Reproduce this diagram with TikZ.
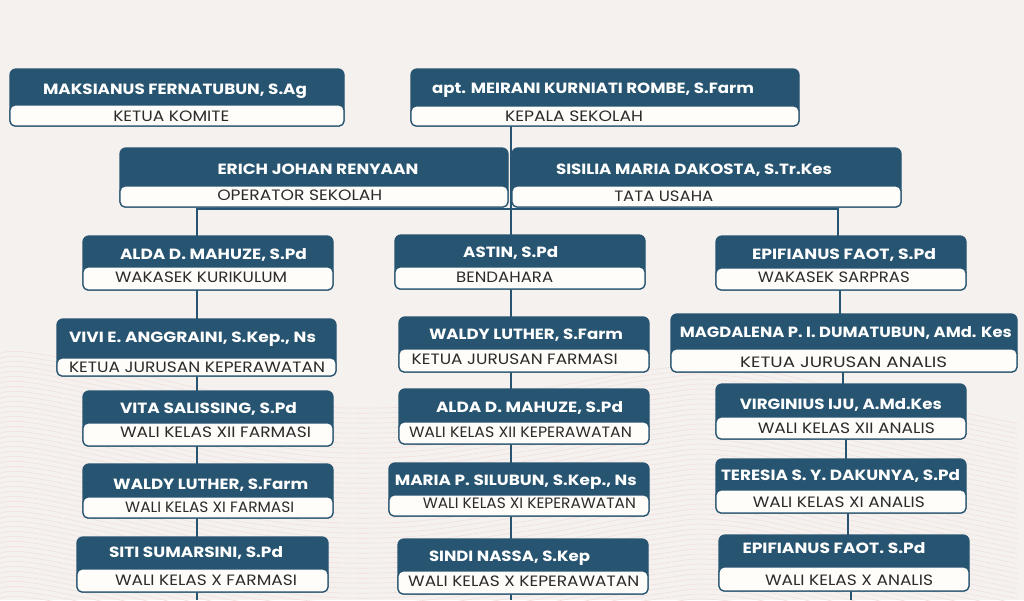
\documentclass[tikz,border=0pt]{standalone}
\usepackage{fontspec}
\usepackage{graphicx}
\newfontfamily\popp{Poppins}
\usetikzlibrary{calc}
\definecolor{bgc}{RGB}{244,241,239}
\definecolor{cblue}{RGB}{39,84,112}
\definecolor{cwhite}{RGB}{254,253,250}
\definecolor{rtext}{RGB}{45,42,42}
\definecolor{wavec}{RGB}{241,224,222}
\pgfdeclarelayer{waves}
\pgfdeclarelayer{links}
\pgfsetlayers{waves,links,main}

\newcommand\fitw[2]{\sbox0{#2}\pgfmathsetmacro\fitr{#1/\the\wd0}\scalebox{\fitr}[1]{\usebox0}}

\tikzset{
 cardbox/.style={draw=cblue, fill=cblue, line width=1.3pt, rounded corners=6pt, inner sep=0pt, outer sep=0pt, anchor=north west},
 rolebox/.style={draw=cblue, fill=cwhite, line width=1.3pt, rounded corners=5pt},
 nametext/.style={anchor=base, inner sep=0pt, text=white, font=\popp\bfseries\fontsize{14.8}{16}\selectfont},
 roletext/.style={anchor=base, inner sep=0pt, text=rtext, font=\popp\fontsize{15}{17}\selectfont},
 link/.style={draw=cblue, line width=1.5pt},
 wavy/.style={draw=wavec, line width=0.6pt},
}

\newcommand\card[6]{%
 \node[cardbox, minimum width={(#4-#2)*1pt}, minimum height={(#5-#3)*1pt}] (#1) at (#2,#3) {};
 \draw[rolebox] (#2,#6) rectangle (#4,#5);}
\newcommand\nm[5]{\node[nametext] (#1) at (#2,#3+5) {\fitw{#4}{#5}};}
\newcommand\rl[5]{\node[roletext] (#1) at (#2,#3+5) {\fitw{#4}{#5}};}

\begin{document}
\begin{tikzpicture}[x=1pt,y=-1pt]
\useasboundingbox (0,0) rectangle (1024,600);
\begin{pgfonlayer}{waves}
\fill[bgc] (0,0) rectangle (1024,600);
\begin{scope}
\clip (0,0) rectangle (1017,600);
\foreach \k in {0,...,50}{
 \draw[wavy] plot[smooth, tension=0.7] coordinates {(-5,356+5*\k) (25,352+5*\k) (120,370+5*\k) (250,398+5*\k) (380,408+5*\k) (520,392+5*\k) (650,370+5*\k) (730,366+5*\k) (860,392+5*\k) (1020,424+5*\k)};
}
\end{scope}
\end{pgfonlayer}

% top cards
\card{k1}{10}{69}{344}{126}{105}
\card{k2}{411}{69}{799}{126}{106}
\card{k3}{120}{148}{508}{207}{186}
\card{k4}{512}{148}{901}{207}{186}
% left column
\card{L1}{83}{236}{333}{290}{267}
\card{L2}{57}{319}{336}{376}{358}
\card{L3}{83}{391}{333}{446}{423}
\card{L4}{83}{464}{333}{518}{497}
\card{L5}{77}{537}{328}{592}{569}
% center column
\card{C1}{395}{235}{645}{289}{267}
\card{C2}{399}{317}{649}{372}{349}
\card{C3}{399}{389}{649}{444}{422}
\card{C4}{389}{463}{649}{516}{495}
\card{C5}{398}{539}{648}{594}{571}
% right column
\card{R1}{716}{236}{966}{290}{268}
\card{R2}{671}{314}{1017}{372}{349}
\card{R3}{716}{384}{966}{439}{417}
\card{R4}{716}{459}{966}{513}{490}
\card{R5}{719}{535}{969}{591}{567}

% names
\nm{k1n}{175}{89}{264}{MAKSIANUS FERNATUBUN, S.Ag}
\nm{k2n}{593}{88}{322}{apt. MEIRANI KURNIATI ROMBE, S.Farm}
\nm{k3n}{318}{169}{201}{ERICH JOHAN RENYAAN}
\nm{k4n}{694}{169}{276}{SISILIA MARIA DAKOSTA, S.Tr.Kes}
\nm{L1n}{213.5}{254}{187}{ALDA D. MAHUZE, S.Pd}
\nm{L2n}{192.5}{337}{247}{VIVI E. ANGGRAINI, S.Kep., Ns}
\nm{L3n}{208.5}{408}{177}{VITA SALISSING, S.Pd}
\nm{L4n}{210.7}{484.3}{195}{WALDY LUTHER, S.Farm}
\nm{L5n}{196}{552.3}{174}{SITI SUMARSINI, S.Pd}
\nm{C1n}{510.7}{252.3}{95}{ASTIN, S.Pd}
\nm{C2n}{526}{334.3}{194}{WALDY LUTHER, S.Farm}
\nm{C3n}{529.5}{407.3}{187}{ALDA D. MAHUZE, S.Pd}
\nm{C4n}{515.8}{480.7}{242}{MARIA P. SILUBUN, S.Kep., Ns}
\nm{C5n}{509.5}{556}{161}{SINDI NASSA, S.Kep}
\nm{R1n}{844}{254}{184}{EPIFIANUS FAOT, S.Pd}
\nm{R2n}{845.8}{332}{332}{MAGDALENA P. I. DUMATUBUN, AMd. Kes}
\nm{R3n}{840.8}{404}{202}{VIRGINIUS IJU, A.Md.Kes}
\nm{R4n}{840.5}{475}{239}{TERESIA S. Y. DAKUNYA, S.Pd}
\nm{R5n}{834}{548.3}{183}{EPIFIANUS FAOT. S.Pd}

% roles
\rl{k1r}{171.3}{116}{116}{KETUA KOMITE}
\rl{k2r}{574}{116}{138}{KEPALA SEKOLAH}
\rl{k3r}{299.8}{195}{165}{OPERATOR SEKOLAH}
\rl{k4r}{663.8}{196.7}{99}{TATA USAHA}
\rl{L1r}{201}{277}{172}{WAKASEK KURIKULUM}
\rl{L2r}{197}{367.7}{256}{KETUA JURUSAN KEPERAWATAN}
\rl{L3r}{215.5}{432.7}{191}{WALI KELAS XII FARMASI}
\rl{L4r}{209.7}{507.7}{169}{WALI KELAS XI FARMASI}
\rl{L5r}{206}{580}{182}{WALI KELAS X FARMASI}
\rl{C1r}{504.7}{277.3}{97}{BENDAHARA}
\rl{C2r}{514.7}{359}{206}{KETUA JURUSAN FARMASI}
\rl{C3r}{520.5}{432.7}{223}{WALI KELAS XII KEPERAWATAN}
\rl{C4r}{529.3}{503.3}{213}{WALI KELAS XI KEPERAWATAN}
\rl{C5r}{523.7}{581.7}{231}{WALI KELAS X KEPERAWATAN}
\rl{R1r}{833.8}{277.7}{152}{WAKASEK SARPRAS}
\rl{R2r}{843.7}{362.7}{207}{KETUA JURUSAN ANALIS}
\rl{R3r}{846.3}{428.3}{177}{WALI KELAS XII ANALIS}
\rl{R4r}{838.8}{502}{172}{WALI KELAS XI ANALIS}
\rl{R5r}{849}{580}{168}{WALI KELAS X ANALIS}

% connectors
\begin{pgfonlayer}{links}
\coordinate (xc) at (511,0);
\coordinate (xl) at (197,0);
\coordinate (busL) at (197,209);
\coordinate (busR) at (838,209);
\coordinate (botC) at (511,600);
\coordinate (botL) at (197,600);
\coordinate (xR2) at (840,0);
\coordinate (xR3) at (843,0);
\coordinate (xR4) at (846,0);
\coordinate (xR5) at (848,0);
\coordinate (botR) at (851,600);
\draw[link] (k2.south -| xc) -- (C1.north -| xc) -- (C2 -| xc) -- (C3 -| xc) -- (C4 -| xc) -- (C5 -| xc) -- (botC);
\draw[link] (L1.north -| xl) -- (busL) -- (busR) -- (R1.north -| busR);
\draw[link] (L1 -| xl) -- (L2 -| xl) -- (L3 -| xl) -- (L4 -| xl) -- (L5 -| xl) -- (botL);
\draw[link] (R1.south -| xR2) -- (R2.north -| xR2);
\draw[link] (R2.south -| xR3) -- (R3.north -| xR3);
\draw[link] (R3.south -| xR4) -- (R4.north -| xR4);
\draw[link] (R4.south -| xR5) -- (R5.north -| xR5);
\draw[link] (R5.south -| botR) -- (botR);
\end{pgfonlayer}
\end{tikzpicture}
\end{document}
